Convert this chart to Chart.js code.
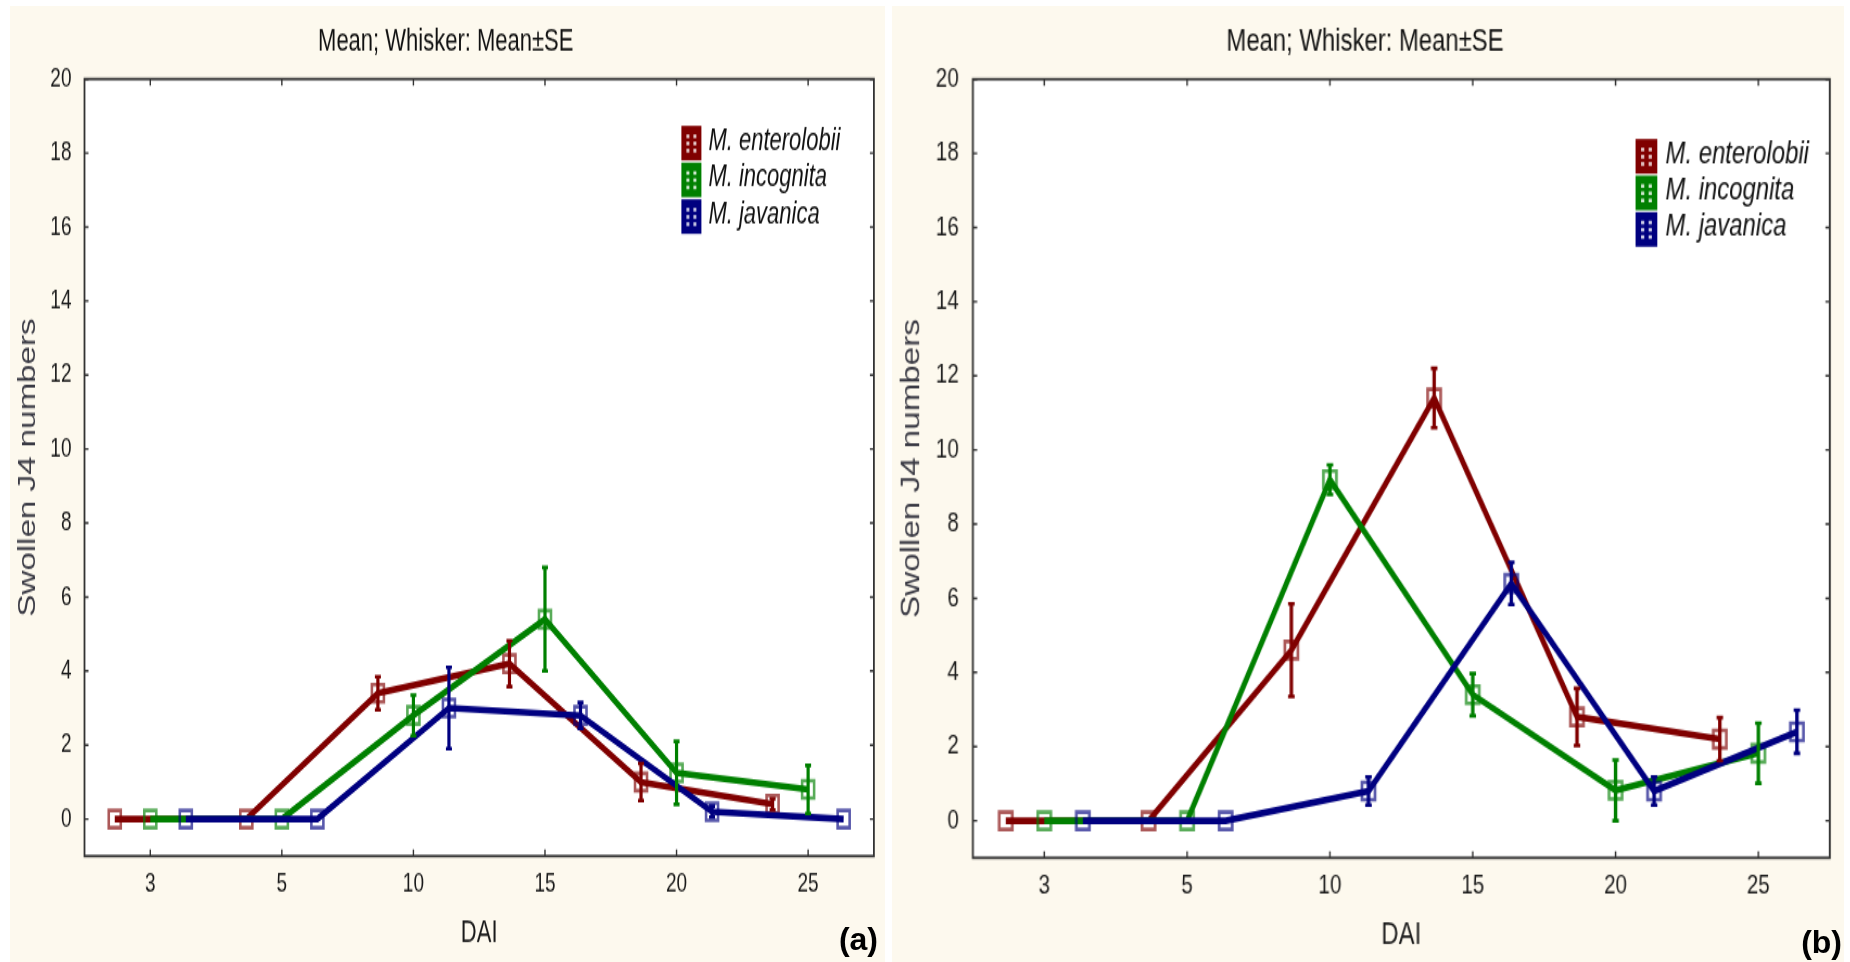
<!DOCTYPE html>
<html>
<head>
<meta charset="utf-8">
<title>Swollen J4 numbers by DAI</title>
<script src="https://cdn.jsdelivr.net/npm/chart.js@4.4.1/dist/chart.umd.min.js"></script>
<style>
  html, body { margin: 0; padding: 0; background: #ffffff; }
  body { width: 1850px; height: 962px; position: relative; overflow: hidden; font-family: "Liberation Sans", Arial, sans-serif; }
  .panel { position: absolute; top: 6px; height: 956px; background: #fdf9ee; overflow: hidden; }
  #panelA { left: 10px; width: 875px; }
  #panelB { left: 892px; width: 952px; }
  /* each graph is drawn at 875x664 and stretched like the exported figure */
  .stretch { position: absolute; left: 0; top: 0; width: 875px; height: 664px; transform-origin: 0 0; }
  #panelA .stretch { transform: scale(1, 1.44); }
  #panelB .stretch { transform: scale(1.0855, 1.443); }
  .tag { position: absolute; font-weight: bold; font-size: 32px; line-height: 1; color: #000; }
</style>
</head>
<body>
<div class="panel" id="panelA">
  <div class="stretch"><canvas id="chartA" width="875" height="664"></canvas></div>
  <div class="tag" style="right: 7px; top: 917px;">(a)</div>
</div>
<div class="panel" id="panelB">
  <div class="stretch"><canvas id="chartB" width="875" height="664"></canvas></div>
  <div class="tag" style="right: 2px; top: 920px;">(b)</div>
</div>

<script>
// Days after inoculation and the three species
const dai = ['3', '5', '10', '15', '20', '25'];
const species = ['M. enterolobii', 'M. incognita', 'M. javanica'];
const yTickValues = [0, 2, 4, 6, 8, 10, 12, 14, 16, 18, 20];

// (a) means and standard errors
const aEnterolobiiMean = [0, 0, 3.4, 4.2, 1.0, 0.4];
const aEnterolobiiSE   = [0, 0, 0.45, 0.62, 0.5, 0.15];
const aIncognitaMean   = [0, 0, 2.8, 5.4, 1.25, 0.8];
const aIncognitaSE     = [0, 0, 0.55, 1.4, 0.85, 0.65];
const aJavanicaMean    = [0, 0, 3.0, 2.8, 0.2, 0];
const aJavanicaSE      = [0, 0, 1.1, 0.35, 0.15, 0];

// (b) means and standard errors
const bEnterolobiiMean = [0, 0, 4.6, 11.4, 2.8, 2.2];
const bEnterolobiiSE   = [0, 0, 1.25, 0.8, 0.77, 0.58];
const bIncognitaMean   = [0, 0, 9.2, 3.4, 0.82, 1.82];
const bIncognitaSE     = [0, 0, 0.4, 0.57, 0.82, 0.81];
const bJavanicaMean    = [0, 0, 0.8, 6.4, 0.8, 2.4];
const bJavanicaSE      = [0, 0, 0.38, 0.57, 0.38, 0.58];

const lineColors = ['rgb(128,0,0)', 'rgb(0,128,0)', 'rgb(0,0,128)'];
const markerColors = ['rgba(128,0,0,0.65)', 'rgba(0,128,0,0.65)', 'rgba(0,0,128,0.65)'];
const dodge = [-0.27, 0, 0.27];   // side-by-side shift of each species within a DAI slot

Chart.defaults.font.family = '"Liberation Sans", Arial, sans-serif';

function makeDatasets(means, errors) {
  return species.map((name, s) => ({
    label: name,
    data: means[s].map((v, i) => ({ x: i + dodge[s], y: v })),
    se: errors[s],
    borderColor: lineColors[s],
    borderWidth: 4.6,
    tension: 0,
    pointStyle: 'rect',
    pointRadius: 8.5,
    pointBorderWidth: 2.6,
    pointBorderColor: markerColors[s],
    pointBackgroundColor: 'rgba(0,0,0,0)',
    order: 3 - s
  }));
}

// white plot area, box frame and inward tick marks on all four sides
const frame = {
  id: 'frame',
  beforeDraw(chart) {
    const { ctx, chartArea: a } = chart;
    ctx.save();
    ctx.fillStyle = '#ffffff';
    ctx.fillRect(a.left, a.top, a.width, a.height);
    ctx.restore();
  },
  beforeDatasetsDraw(chart) {
    const { ctx, chartArea: a, scales: { x, y } } = chart;
    ctx.save();
    ctx.strokeStyle = '#333333';
    ctx.lineWidth = 1.4;
    ctx.beginPath();
    x.ticks.forEach(t => {
      const px = x.getPixelForValue(t.value);
      ctx.moveTo(px, a.bottom); ctx.lineTo(px, a.bottom - 4.6);
      ctx.moveTo(px, a.top); ctx.lineTo(px, a.top + 4.6);
    });
    y.ticks.forEach(t => {
      const py = y.getPixelForValue(t.value);
      ctx.moveTo(a.left, py); ctx.lineTo(a.left + 4, py);
      ctx.moveTo(a.right, py); ctx.lineTo(a.right - 4, py);
    });
    ctx.stroke();
    ctx.lineWidth = 1.8;
    ctx.strokeRect(a.left, a.top, a.width, a.height);
    ctx.restore();
  }
};

// mean ± SE whiskers
const whiskers = {
  id: 'whiskers',
  afterDatasetsDraw(chart) {
    const { ctx, scales: { x, y } } = chart;
    ctx.save();
    chart.data.datasets.forEach(ds => {
      ctx.strokeStyle = ds.borderColor;
      ds.data.forEach((p, i) => {
        const se = ds.se[i];
        if (!se) return;
        const px = x.getPixelForValue(p.x);
        const top = y.getPixelForValue(p.y + se);
        const bottom = y.getPixelForValue(p.y - se);
        ctx.lineWidth = 3.2;
        ctx.beginPath();
        ctx.moveTo(px, top); ctx.lineTo(px, bottom);
        ctx.stroke();
        ctx.lineWidth = 2.6;
        ctx.beginPath();
        ctx.moveTo(px - 3, top); ctx.lineTo(px + 3, top);
        ctx.moveTo(px - 3, bottom); ctx.lineTo(px + 3, bottom);
        ctx.stroke();
      });
    });
    ctx.restore();
  }
};

// legend drawn inside the plot, near the top right corner
const insideLegend = {
  id: 'insideLegend',
  afterDraw(chart, args, opts) {
    const { ctx, chartArea: a } = chart;
    const x0 = a.right + opts.right;
    let yc = a.top + opts.top;
    ctx.save();
    chart.data.datasets.forEach(ds => {
      ctx.fillStyle = ds.borderColor;
      ctx.fillRect(x0, yc - 12, 20, 24);
      ctx.fillStyle = 'rgba(255,255,255,0.8)';
      for (const r of [-6, -1, 4]) {
        ctx.fillRect(x0 + 5, yc + r, 3, 2.5);
        ctx.fillRect(x0 + 12, yc + r, 3, 2.5);
      }
      ctx.fillStyle = '#111111';
      ctx.font = 'italic 22px "Liberation Sans", Arial, sans-serif';
      ctx.textBaseline = 'middle';
      ctx.textAlign = 'left';
      ctx.fillText(ds.label, x0 + opts.textGap, yc - 1.5);
      yc += opts.rowHeight;
    });
    ctx.restore();
  }
};

function buildChart(canvasId, means, errors, legendPos) {
  return new Chart(document.getElementById(canvasId), {
    type: 'line',
    data: { datasets: makeDatasets(means, errors) },
    plugins: [frame, whiskers, insideLegend],
    options: {
      responsive: false,
      animation: false,
      events: [],
      layout: { padding: { left: 6, right: 9.5, top: 0, bottom: 0 } },
      plugins: {
        legend: { display: false },
        tooltip: { enabled: false },
        title: {
          display: true,
          text: 'Mean; Whisker: Mean±SE',
          color: '#111111',
          font: { size: 22, weight: 'normal', lineHeight: 1.2 },
          padding: { top: 11.45, bottom: 12.85 }
        },
        insideLegend: legendPos
      },
      scales: {
        x: {
          type: 'linear',
          min: -0.5,
          max: dai.length - 0.5,
          afterBuildTicks: scale => { scale.ticks = dai.map((_, i) => ({ value: i })); },
          afterFit: scale => { scale.height = 73.7; },
          grid: { display: false, drawTicks: false },
          border: { display: false },
          ticks: {
            callback: v => dai[v],
            color: '#1a1a1a',
            font: { size: 19 },
            padding: 7.7,
            maxRotation: 0,
            autoSkip: false
          },
          title: {
            display: true,
            text: 'DAI',
            color: '#1a1a1a',
            font: { size: 22, lineHeight: 1.2 },
            padding: { top: 0, bottom: 6.8 }
          }
        },
        y: {
          min: -1,
          max: 20,
          afterBuildTicks: scale => { scale.ticks = yTickValues.map(v => ({ value: v })); },
          afterFit: scale => { scale.width = 68.5; },
          grid: { display: false, drawTicks: false },
          border: { display: false },
          ticks: { color: '#1a1a1a', font: { size: 19 }, padding: 13 },
          title: {
            display: true,
            text: 'Swollen J4 numbers',
            color: '#3a3a44',
            font: { size: 23, lineHeight: 1 },
            padding: { top: 0.8, bottom: 0 }
          }
        }
      }
    }
  });
}

buildChart('chartA',
  [aEnterolobiiMean, aIncognitaMean, aJavanicaMean],
  [aEnterolobiiSE, aIncognitaSE, aJavanicaSE],
  { right: -192.5, top: 44.5, textGap: 27, rowHeight: 25.5 });

buildChart('chartB',
  [bEnterolobiiMean, bIncognitaMean, bJavanicaMean],
  [bEnterolobiiSE, bIncognitaSE, bJavanicaSE],
  { right: -178.9, top: 53.5, textGap: 27.6, rowHeight: 25.3 });
</script>
</body>
</html>
